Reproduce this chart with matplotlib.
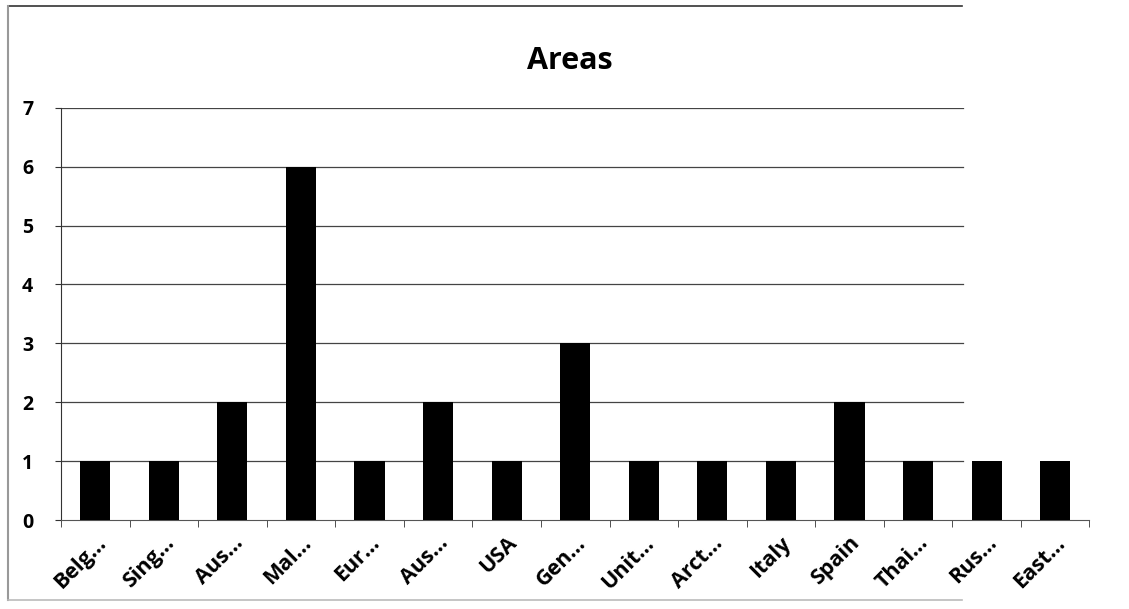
import numpy as np
import matplotlib.pyplot as plt
from matplotlib.lines import Line2D

areas = ['Belg...', 'Sing...', 'Aus...', 'Mal...', 'Eur...', 'Aus...', 'USA', 'Gen...',
         'Unit...', 'Arct...', 'Italy', 'Spain', 'Thai...', 'Rus...', 'East...']
counts = [1, 1, 2, 6, 1, 2, 1, 3, 1, 1, 1, 2, 1, 1, 1]
y_ticks = [0, 1, 2, 3, 4, 5, 6, 7]

plt.rcParams['font.family'] = ['Open Sans', 'DejaVu Sans']

fig = plt.figure(figsize=(11.29, 6.09), dpi=100)
ax = fig.add_axes([0.054, 0.146, 0.911, 0.677])

x = np.arange(len(areas))
ax.bar(x, counts, width=0.44, color='black', zorder=3)

ax.set_xlim(-0.5, len(areas) - 0.5)
ax.set_ylim(0, 7)
ax.set_yticks(y_ticks)
ax.set_yticklabels([str(v) for v in y_ticks], fontsize=14, fontweight='bold')
# gridlines fade out near the right edge of the scanned chart
for v in y_ticks[1:]:
    ax.axhline(v, xmin=0, xmax=0.877, color='#444444', linewidth=0.9, zorder=0)

ax.set_xticks(x)
ax.set_xticklabels(areas, rotation=45, ha='right', rotation_mode='anchor',
                   fontsize=15.5, fontweight='bold')
ax.tick_params(axis='x', length=0, pad=9)
ax.set_xticks(np.arange(-0.5, len(areas), 1), minor=True)
ax.tick_params(axis='x', which='minor', length=5, color='#333333')
ax.tick_params(axis='y', length=4, color='#333333', pad=16)

for side in ['top', 'right']:
    ax.spines[side].set_visible(False)
ax.spines['left'].set_color('#333333')
ax.spines['bottom'].set_color('#555555')

fig.text(0.505, 0.9, 'Areas', ha='center', va='center', fontsize=22, fontweight='bold')

# outer chart frame like the scanned Excel chart
fig.lines.append(Line2D([0.007, 0.852], [0.99, 0.99], transform=fig.transFigure,
                        color='#333333', linewidth=1.2))
fig.lines.append(Line2D([0.007, 0.007], [0.015, 0.99], transform=fig.transFigure,
                        color='#999999', linewidth=1.5))
fig.lines.append(Line2D([0.007, 0.852], [0.015, 0.015], transform=fig.transFigure,
                        color='#bbbbbb', linewidth=1.2))

fig.savefig('out.png', dpi=100)
